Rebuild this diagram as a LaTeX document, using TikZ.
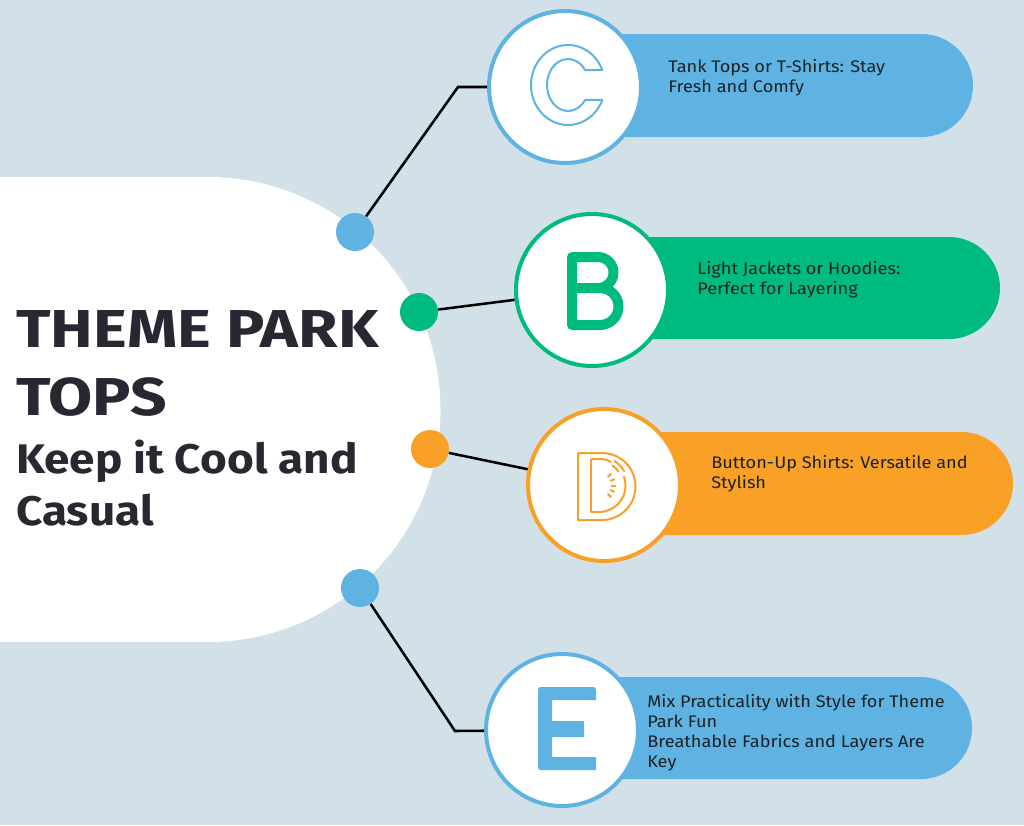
\documentclass[tikz,border=0pt]{standalone}
\usepackage{fontspec}
\setmainfont{Fira Sans}
\usetikzlibrary{calc}
\definecolor{bg}{HTML}{D2E0E8}
\definecolor{cblue}{HTML}{5EB3E2}
\definecolor{cgreen}{HTML}{00BB80}
\definecolor{corange}{HTML}{F9A027}
\definecolor{ink}{HTML}{1C2126}
\definecolor{titleink}{HTML}{272831}
\begin{document}
\begin{tikzpicture}[x=0.75pt,y=-0.75pt,
  dot/.style={circle,fill=#1,minimum size=28.5pt,inner sep=0pt},
  badge/.style={circle,fill=white,draw=#1,line width=3pt,minimum size=114pt,inner sep=0pt},
  link/.style={line width=1.9pt,black},
  label/.style={anchor=base west,inner sep=0pt,align=left,font=\fontsize{12.6}{15}\selectfont,text=ink,xscale=1.08,transform shape},
  heading/.style={anchor=base west,inner sep=0pt,align=left,text=titleink,transform shape},
  outline/.style={draw=#1,line width=1.5pt,line join=round}]
\useasboundingbox (0,0) rectangle (1024,825);
\fill[bg] (0,0) rectangle (1024,825);
% central white shape
\fill[white] (0,177) -- (208,177) arc[start angle=-90,end angle=90,radius=232.5] -- (0,642) -- cycle;
% pills
\fill[cblue]   (565,34)  -- (921.5,34)  arc[start angle=-90,end angle=90,radius=51.5] -- (565,137) -- cycle;
\fill[cgreen]  (592,237) -- (949,237)   arc[start angle=-90,end angle=90,radius=51]   -- (592,339) -- cycle;
\fill[corange] (604,432) -- (961.5,432) arc[start angle=-90,end angle=90,radius=51.5] -- (604,535) -- cycle;
\fill[cblue]   (562,677) -- (921,677)   arc[start angle=-90,end angle=90,radius=51]   -- (562,779) -- cycle;
% dots
\node[dot=cblue]   (d1) at (355,232) {};
\node[dot=cgreen]  (d2) at (419,312) {};
\node[dot=corange] (d3) at (430,449) {};
\node[dot=cblue]   (d4) at (360,588) {};
% badges
\node[badge=cblue]   (cC) at (565,87)  {};
\node[badge=cgreen]  (cB) at (592,290) {};
\node[badge=corange] (cD) at (604,485) {};
\node[badge=cblue]   (cE) at (562,730) {};
% connectors
\coordinate (k1) at (458,87);
\coordinate (k4) at (455,731);
\draw[link] (d1) -- (k1) -- (cC);
\draw[link] (d2) -- (cB);
\draw[link] (d3) -- (cD);
\draw[link] (d4) -- (k4) -- (cE);
% letter C (outlined)
\draw[outline=cblue] (568,85) ++(-22:37 and 40) arc[start angle=-22,end angle=-338,x radius=37,y radius=40]
  -- ($(568,85)+(35:21 and 26)$) arc[start angle=-325,end angle=-35,x radius=21,y radius=26] -- cycle;
% letter B (solid stroke)
\draw[cgreen,line width=7.5pt,line join=round,line cap=round]
  (572,325) -- (572,257) -- (598,257) arc[start angle=-90,end angle=90,radius=15.5]
  -- (572,288) -- (600,288) arc[start angle=-90,end angle=90,radius=18.5] -- cycle;
% letter D (outlined, decorated)
\draw[outline=corange] (578,453) -- (602,453) arc[start angle=-90,end angle=90,radius=33.5] -- (578,520) -- cycle;
\draw[outline=corange] (591,459) -- (599,459) arc[start angle=-90,end angle=-62,radius=26.5];
\draw[outline=corange] (599,512) -- (591,512) -- cycle (591,459) -- (591,512);
\draw[outline=corange] (599,485.5) ++(-20:26.5) arc[start angle=-20,end angle=90,radius=26.5] -- (599,512);
\draw[outline=corange,line cap=round] (599,485.5) ++(-58:29) arc[start angle=-58,end angle=-30,radius=29];
\draw[outline=corange,line cap=round] (599,485.5) ++(-56:24) arc[start angle=-56,end angle=-36,radius=24];
\foreach \a in {-44,-22,0,22,44}
  \draw[outline=corange,line cap=round] (599,485.5) ++(\a:12.5) -- ++(\a:4);
% letter E (solid)
\fill[cblue,rounded corners=2pt] (538,687) -- (596,687) [sharp corners]-- (596,700) -- (552,700) -- (552,721) -- (584,721)
  -- (584,737) -- (552,737) -- (552,757) -- (596,757) -- (596,770) [rounded corners=2pt]-- (538,770) -- cycle;
% texts (anchor = baseline of last line)
\node[label] (tC) at (668,92)  {Tank Tops or T-Shirts: Stay\\Fresh and Comfy};
\node[label] (tB) at (697,294) {Light Jackets or Hoodies:\\Perfect for Layering};
\node[label] (tD) at (711,488) {Button-Up Shirts: Versatile and\\Stylish};
\node[label] (tE) at (647,767) {Mix Practicality with Style for Theme\\Park Fun\\Breathable Fabrics and Layers Are\\Key};
\node[heading,xscale=1.2,font=\fontsize{40}{51}\bfseries\selectfont] (title) at (16,415) {THEME PARK\\TOPS};
\node[heading,xscale=1.11,font=\fontsize{31}{39}\bfseries\selectfont] (sub) at (16,525) {Keep it Cool and\\Casual};
\end{tikzpicture}
\end{document}
